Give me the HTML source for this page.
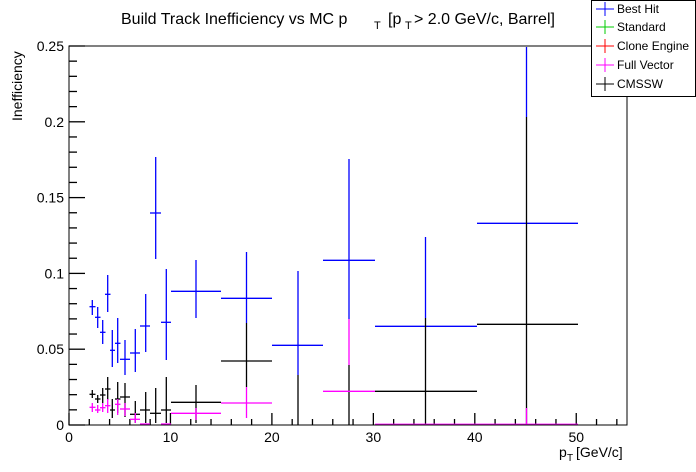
<!DOCTYPE html>
<html><head><meta charset="utf-8"><style>
html,body{margin:0;padding:0;background:#fff;}
svg{display:block;font-family:"Liberation Sans",sans-serif;}
</style></head><body>
<svg id="s" width="696" height="472" viewBox="0 0 696 472" xmlns="http://www.w3.org/2000/svg">
<rect width="696" height="472" fill="#fff"/>
<text x="121" y="24" font-size="16">Build Track Inefficiency vs MC p</text>
<text x="374" y="29" font-size="11">T</text>
<text x="388" y="24" font-size="16">[p</text>
<text x="405" y="29" font-size="11">T</text>
<text x="414" y="24" font-size="16">&gt; 2.0 GeV/c, Barrel]</text>
<text transform="translate(22,121) rotate(-90)" font-size="14">Inefficiency</text>
<text x="559" y="457" font-size="14">p</text>
<text x="567" y="461" font-size="10">T</text>
<text x="576" y="457" font-size="14">[GeV/c]</text>
<g id="g" fill="none" stroke-width="1.3"></g>
<rect x="69" y="46" width="558" height="379" fill="none" stroke="#000" stroke-width="1"/>
<g font-size="14" id="lab"></g>
<rect x="591.5" y="0.5" width="104" height="96" fill="#fff" stroke="#000"/>
<g font-size="12">
<line x1="596" x2="614" y1="9" y2="9" stroke="#00f"/><line x1="605" x2="605" y1="2" y2="16" stroke="#00f"/><text x="617" y="13">Best Hit</text>
<line x1="596" x2="614" y1="27" y2="27" stroke="#0c0"/><line x1="605" x2="605" y1="20" y2="34" stroke="#0c0"/><text x="617" y="31">Standard</text>
<line x1="596" x2="614" y1="46" y2="46" stroke="#f00"/><line x1="605" x2="605" y1="39" y2="53" stroke="#f00"/><text x="617" y="50">Clone Engine</text>
<line x1="596" x2="614" y1="65" y2="65" stroke="#f0f"/><line x1="605" x2="605" y1="58" y2="72" stroke="#f0f"/><text x="617" y="69">Full Vector</text>
<line x1="596" x2="614" y1="84" y2="84" stroke="#000"/><line x1="605" x2="605" y1="77" y2="91" stroke="#000"/><text x="617" y="88">CMSSW</text>
</g>
</svg>
<script>
var g=document.getElementById('g'),lab=document.getElementById('lab'),NS="http://www.w3.org/2000/svg";
function L(x1,y1,x2,y2,c){var e=document.createElementNS(NS,'line');e.setAttribute('x1',x1);e.setAttribute('y1',y1);e.setAttribute('x2',x2);e.setAttribute('y2',y2);e.setAttribute('stroke',c);g.appendChild(e);}
function T(x,y,t,a){var e=document.createElementNS(NS,'text');e.setAttribute('x',x);e.setAttribute('y',y);e.setAttribute('text-anchor',a);e.textContent=t;lab.appendChild(e);}
// axes ticks
for(var i=0;i<=27;i++){var x=69+i*20.29;L(x,425,x,i%5==0?413:419,'#000');}
for(var i=0;i<=25;i++){var y=425-i*15.16;L(69,y,i%5==0?85:77,y,'#000');}
['0','10','20','30','40','50'].forEach(function(t,i){T(69+i*101.45,442,t,'middle');});
['0','0.05','0.1','0.15','0.2','0.25'].forEach(function(t,i){T(64,430-i*75.8,t,'end');});
var B='#00f',K='#000',M='#f0f';
function P(c,x,y,x1,x2,e1,e2){L(x1,y,x2,y,c);L(x,e1,x,e2,c);}
// low pt
var xs=[[92.3,89.5,95.5],[97.7,95,100.5],[102.7,100,105.5],[107.7,105,110.5],[112.3,110,115],[117.7,115,120.5],[125,120,130],[135.3,130,140],[145.7,140,150],[155.7,150,161],[166.3,161,171],[196,171,221]];
var bl=[[306.7,300,315],[317.3,307,328],[332.3,320,344],[294.3,275,312],[350.3,330,367],[343.3,318,363],[359.3,340,375],[353,329,372],[326,294,352],[213,157,259],[322.3,269,360],[291.3,260,318]];
var bk=[[394.3,390,398],[399,395,403],[395,388,403],[389,377,400],[410,399,418],[399,382,413],[397,383,417],[414.3,401,423],[410,392,423],[413.3,388,423],[410,377,423],[402.3,385,423]];
var mg={0:[407.3,403,412],1:[410,405,413],2:[407.7,403,412],3:[405.7,399,413],5:[404.3,399,415],6:[409,403,416],7:[419.3,413,423],8:[424,424,424],10:[424,424,424],11:[413.3,408,420]};
xs.forEach(function(p,i){P(B,p[0],bl[i][0],p[1],p[2],bl[i][1],bl[i][2]);});
xs.forEach(function(p,i){P(K,p[0],bk[i][0],p[1],p[2],bk[i][1],bk[i][2]);});
for(var k in mg){var p=xs[k],m=mg[k];P(M,p[0],m[0],p[1],p[2],m[1],m[2]);}
// 15-20
L(221,298.3,272,298.3,B);L(246.5,252,246.5,323,B);L(246.5,323,246.5,387,K);L(221,361,272,361,K);L(246.5,387,246.5,418,M);L(221,403,272,403,M);
// 20-25
L(272,345.3,323,345.3,B);L(298,271,298,375,B);L(298,375,298,425,K);
// 25-30
L(323,260.3,375,260.3,B);L(349,159,349,319,B);L(349,319,349,365,M);L(349,365,349,425,K);L(323,391.3,375,391.3,M);
// 30-40
L(375,326.3,477,326.3,B);L(425.5,237,425.5,318,B);L(425.5,318,425.5,425,K);L(375,391.3,477,391.3,K);
// 40-50
L(477,223.3,578,223.3,B);L(526.5,47,526.5,117,B);L(526.5,117,526.5,425,K);L(477,324.3,578,324.3,K);L(526.5,408,526.5,425,M);
L(375,424.3,578,424.3,M);
</script>
</body></html>
